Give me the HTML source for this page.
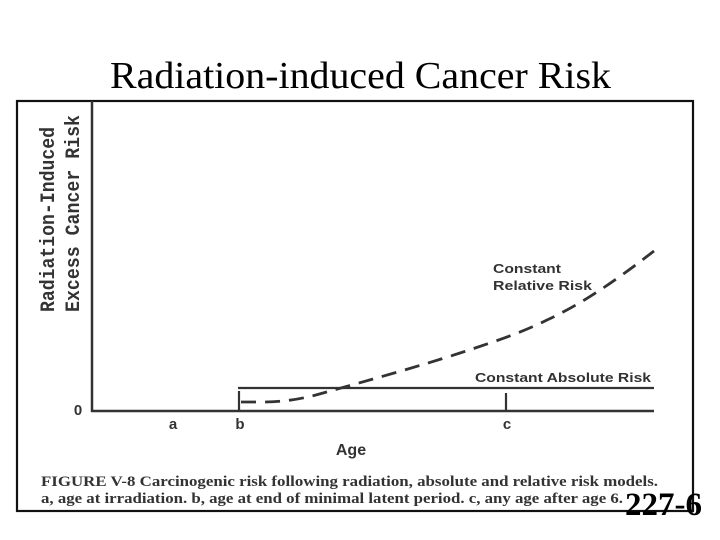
<!DOCTYPE html>
<html>
<head>
<meta charset="utf-8">
<style>
  html, body { margin:0; padding:0; background:#fff; }
  svg { display:block; }
</style>
</head>
<body>
<svg width="720" height="540" viewBox="0 0 720 540" xmlns="http://www.w3.org/2000/svg">
  <rect x="0" y="0" width="720" height="540" fill="#fff"/>

  <!-- Title -->
  <text x="110" y="88" font-family="'Liberation Serif', serif" font-size="38" fill="#000" textLength="501" lengthAdjust="spacingAndGlyphs">Radiation-induced Cancer Risk</text>

  <!-- Frame -->
  <rect x="17" y="101" width="676" height="410" fill="none" stroke="#111" stroke-width="2.2"/>

  <!-- Y axis label (rotated) -->
  <g font-family="'Liberation Mono', monospace" font-weight="bold" font-size="20" fill="#333">
    <text transform="translate(54,312) rotate(-90)" textLength="185" lengthAdjust="spacingAndGlyphs">Radiation-Induced</text>
    <text transform="translate(79,312) rotate(-90)" textLength="197" lengthAdjust="spacingAndGlyphs">Excess Cancer Risk</text>
  </g>

  <!-- Axes -->
  <line x1="92" y1="101" x2="92" y2="412" stroke="#333" stroke-width="2.5"/>
  <line x1="91" y1="411" x2="654" y2="411" stroke="#333" stroke-width="2.5"/>

  <!-- Constant absolute risk line -->
  <line x1="238" y1="388" x2="654" y2="388" stroke="#333" stroke-width="2.3"/>
  <!-- b tick -->
  <line x1="239" y1="391" x2="239" y2="411" stroke="#333" stroke-width="2.2"/>
  <!-- c tick -->
  <line x1="506" y1="393" x2="506" y2="410" stroke="#333" stroke-width="2.2"/>

  <!-- Constant relative risk dashed curve -->
  <path d="M241,402 L262,402 C290,402 310,397 330,391 C370,380 420,366 460,353 C500,340 525,331 547,320 C575,307 605,289 654,251"
        fill="none" stroke="#333" stroke-width="2.8" stroke-dasharray="15 9"/>

  <!-- Curve labels -->
  <g font-family="'Liberation Sans', sans-serif" font-weight="bold" font-size="12.5" fill="#333">
    <text x="493" y="273" textLength="68" lengthAdjust="spacingAndGlyphs">Constant</text>
    <text x="493" y="290" textLength="99" lengthAdjust="spacingAndGlyphs">Relative Risk</text>
    <text x="475" y="382" textLength="176" lengthAdjust="spacingAndGlyphs">Constant Absolute Risk</text>
  </g>

  <!-- Tick labels -->
  <g font-family="'Liberation Sans', sans-serif" font-weight="bold" fill="#333" text-anchor="middle">
    <text x="78" y="415" font-size="15">0</text>
    <text x="173" y="429" font-size="15">a</text>
    <text x="240" y="429" font-size="15">b</text>
    <text x="507" y="429" font-size="15">c</text>
    <text x="351" y="455" font-size="16">Age</text>
  </g>

  <!-- Caption -->
  <g font-family="'Liberation Serif', serif" font-weight="bold" font-size="15" fill="#333">
    <text x="41" y="486" textLength="617" lengthAdjust="spacingAndGlyphs">FIGURE V-8   Carcinogenic risk following radiation, absolute and relative risk models.</text>
    <text x="41" y="503" textLength="582" lengthAdjust="spacingAndGlyphs">a, age at irradiation. b, age at end of minimal latent period. c, any age after age 6.</text>
  </g>

  <!-- Slide number -->
  <text x="625" y="515" font-family="'Liberation Serif', serif" font-weight="bold" font-size="33" fill="#000" textLength="77" lengthAdjust="spacingAndGlyphs">227-6</text>
</svg>
</body>
</html>
